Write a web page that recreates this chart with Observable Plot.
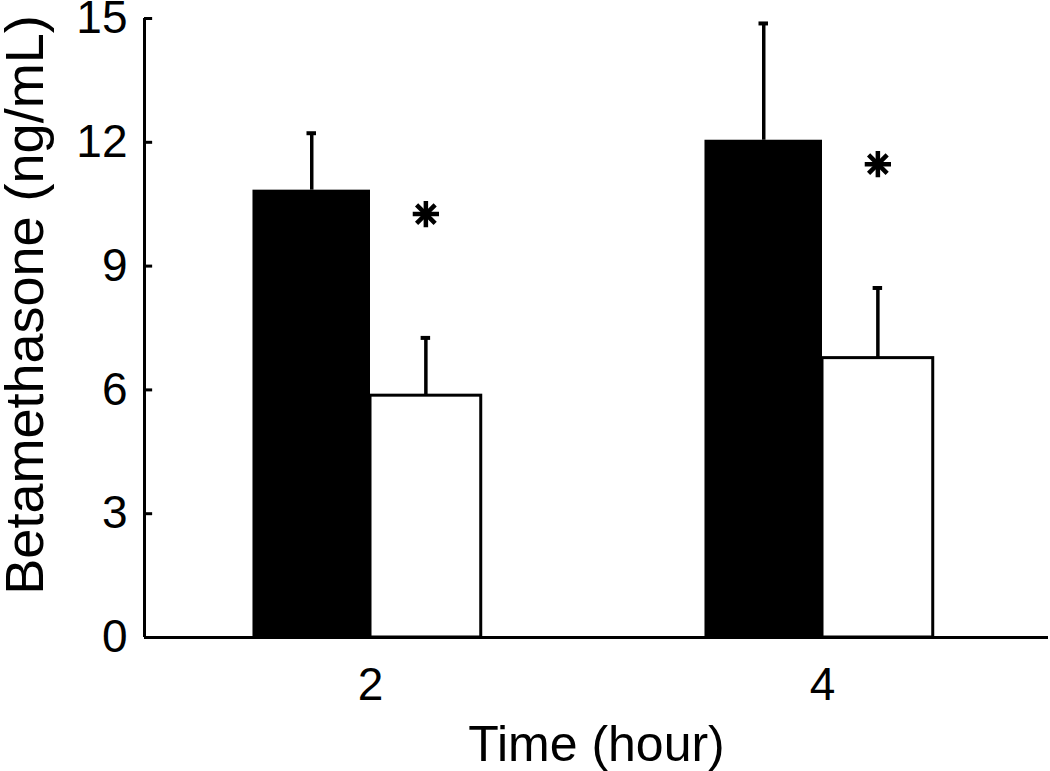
<!DOCTYPE html>
<html>
<head>
<meta charset="utf-8">
<script src="https://cdn.jsdelivr.net/npm/d3@7"></script>
<script src="https://cdn.jsdelivr.net/npm/@observablehq/plot@0.6"></script>
<style>
  html, body { margin: 0; padding: 0; background: #fff; }
  #chart svg { display: block; }
</style>
</head>
<body>
<div id="chart"></div>
<script>
// ---- data ----
const times = [2, 4];                 // hours
const meanFilled = [10.84, 12.05];    // black bars (ng/mL)
const sdFilled = [1.38, 2.83];
const meanOpen = [5.86, 6.77];        // white bars (ng/mL)
const sdOpen = [1.40, 1.70];
const significant = [true, true];     // asterisk above each pair
const yTicks = [0, 3, 6, 9, 12, 15];
const xTicks = [2, 4];
const xLabel = "Time (hour)";
const yLabel = "Betamethasone (ng/mL)";

const rows = times.map((t, i) => ({
  time: t,
  meanFilled: meanFilled[i], upperFilled: meanFilled[i] + sdFilled[i],
  meanOpen: meanOpen[i], upperOpen: meanOpen[i] + sdOpen[i],
  sig: significant[i]
}));

const xDomain = [1, 5];
const wFilled = 0.52, wOpen = 0.49, cap = 0.021, tickLen = 0.036;
const cFilled = d => d.time - wFilled / 2;
const cOpen = d => d.time + wOpen / 2;
const sigRows = rows.filter(d => d.sig);

const chart = Plot.plot({
  width: 1050,
  height: 771,
  marginLeft: 144,
  marginRight: 2,
  marginTop: 18,
  marginBottom: 134,
  style: { fontFamily: "'Liberation Sans', Arial, sans-serif", fontSize: "46px", color: "#000", background: "#fff" },
  x: { type: "linear", domain: xDomain, axis: null },
  y: { domain: [0, 15], axis: null },
  marks: [
    // bars
    Plot.rectY(rows, { x1: d => d.time - wFilled, x2: d => d.time, y1: 0, y2: "meanFilled", fill: "#000" }),
    Plot.rectY(rows, { x1: d => d.time, x2: d => d.time + wOpen, y1: 0, y2: "meanOpen", fill: "#fff", stroke: "#000", strokeWidth: 3 }),
    // error bars (upper only)
    Plot.ruleX(rows, { x: cFilled, y1: "meanFilled", y2: "upperFilled", stroke: "#000", strokeWidth: 3.5 }),
    Plot.ruleY(rows, { y: "upperFilled", x1: d => cFilled(d) - cap, x2: d => cFilled(d) + cap, stroke: "#000", strokeWidth: 4 }),
    Plot.ruleX(rows, { x: cOpen, y1: "meanOpen", y2: "upperOpen", stroke: "#000", strokeWidth: 3.5 }),
    Plot.ruleY(rows, { y: "upperOpen", x1: d => cOpen(d) - cap, x2: d => cOpen(d) + cap, stroke: "#000", strokeWidth: 4 }),
    // significance asterisks (8 spokes)
    Plot.dot(sigRows, { x: cOpen, y: d => d.upperOpen + 3, symbol: "plus", r: 8.5, stroke: "#000", strokeWidth: 4.5 }),
    Plot.dot(sigRows, { x: cOpen, y: d => d.upperOpen + 3, symbol: "times", r: 8.5, stroke: "#000", strokeWidth: 4.5 }),
    // axis lines
    Plot.ruleY([0], { x1: xDomain[0], x2: xDomain[1], stroke: "#000", strokeWidth: 3 }),
    Plot.ruleX([xDomain[0]], { y1: 0, y2: 15, stroke: "#000", strokeWidth: 3 }),
    // inward y ticks
    Plot.ruleY(yTicks, { y: d => d, x1: xDomain[0], x2: xDomain[0] + tickLen, stroke: "#000", strokeWidth: 3 }),
    // tick labels
    Plot.axisY(yTicks, { anchor: "left", tickSize: 0, tickPadding: 17, fontSize: 46, label: null, tickFormat: d => String(d) }),
    Plot.axisX(xTicks, { anchor: "bottom", tickSize: 0, tickPadding: 30, fontSize: 46, label: null, tickFormat: d => String(d) }),
    // axis titles
    Plot.text([xLabel], { frameAnchor: "bottom", dy: 107, lineAnchor: "middle", fontSize: 50, fill: "#000" }),
    Plot.text([yLabel], { frameAnchor: "left", rotate: -90, textAnchor: "middle", dx: -119, dy: -23, lineAnchor: "middle", fontSize: 54, fill: "#000" })
  ]
});
document.getElementById("chart").appendChild(chart);
</script>
</body>
</html>
